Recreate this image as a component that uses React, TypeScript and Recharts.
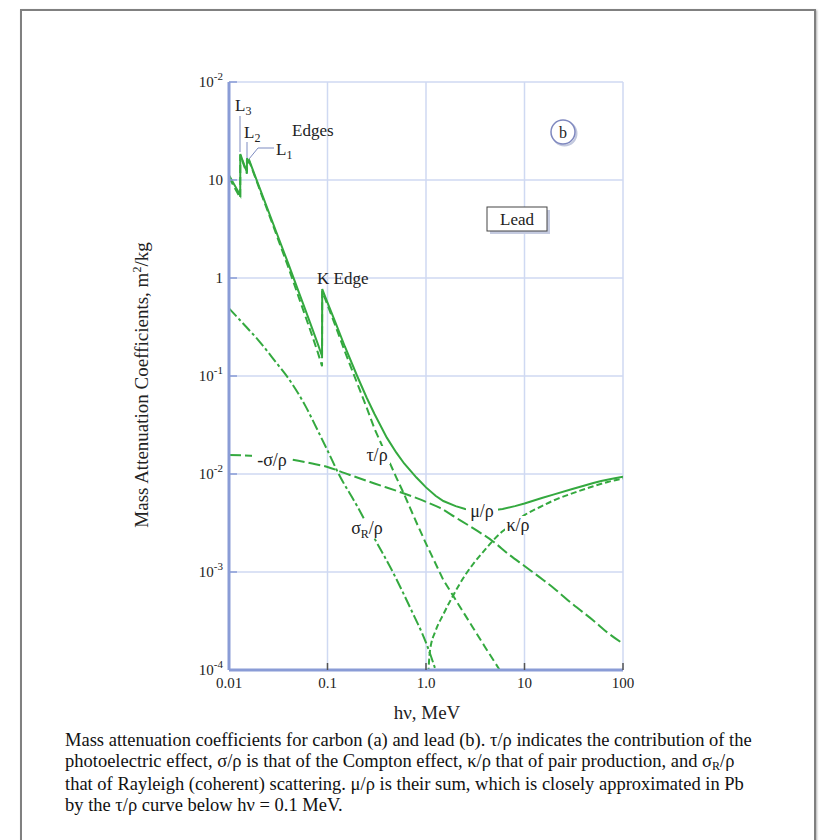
import React from "react";
import { CartesianGrid, Line, LineChart, XAxis, YAxis } from "recharts";

// Lead: photon energy hν (MeV) and mass attenuation coefficients (m²/kg)
const muEnergy = [
  0.01, 0.013, 0.01302, 0.0152, 0.01522, 0.0159, 0.01592, 0.02, 0.03, 0.04, 0.05, 0.06, 0.07, 0.08, 0.088,
  0.0884, 0.1, 0.12, 0.15, 0.2, 0.25, 0.3, 0.4, 0.5, 0.6, 0.8, 1, 1.25, 1.5, 2, 2.5, 3, 4, 5, 6, 8, 10, 15,
  20, 30, 40, 50, 60, 80, 100,
];
const muValue = [
  11.2, 7.0, 18.4, 12.0, 16.7, 14.8, 16.2, 8.8, 3.0, 1.4, 0.76, 0.465, 0.305, 0.21, 0.16, 0.77, 0.56, 0.355,
  0.2, 0.1, 0.06, 0.041, 0.0235, 0.0165, 0.0128, 0.0092, 0.0073, 0.006, 0.0053, 0.0047, 0.0044, 0.0043,
  0.0042, 0.0043, 0.0044, 0.0047, 0.005, 0.0057, 0.0062, 0.007, 0.0076, 0.0081, 0.0085, 0.009, 0.0094,
];

// τ/ρ photoelectric
const tauEnergy = [
  0.01, 0.013, 0.01302, 0.0152, 0.01522, 0.0159, 0.01592, 0.02, 0.03, 0.04, 0.05, 0.06, 0.07, 0.08, 0.088,
  0.0884, 0.1, 0.12, 0.15, 0.2, 0.25, 0.3, 0.43, 0.5, 0.6, 0.8, 1, 1.5, 2, 3, 4, 5.6, 7,
];
const tauValue = [
  10.6, 6.58, 18.0, 11.6, 16.3, 14.45, 15.85, 8.54, 2.85, 1.29, 0.675, 0.4, 0.257, 0.172, 0.126, 0.736,
  0.53, 0.328, 0.178, 0.0845, 0.0475, 0.029, 0.0129, 0.0092, 0.0062, 0.0032, 0.00195, 0.00083, 0.00052,
  0.00027, 0.00017, 0.0001, 0.00007,
];

// σ/ρ Compton
const sigmaEnergy = [0.01, 0.02, 0.04, 0.07, 0.1, 0.15, 0.3, 0.58, 1, 1.39, 2, 3, 4.8, 7, 10, 15.5, 20, 30, 50, 70, 100];
const sigmaValue = [
  0.0156, 0.0152, 0.0142, 0.0128, 0.0118, 0.0102, 0.008, 0.0064, 0.0052, 0.0045, 0.0036, 0.0028, 0.00205,
  0.0015, 0.00115, 0.00083, 0.00068, 0.00048, 0.00032, 0.00024, 0.000186,
];

// σR/ρ Rayleigh (coherent)
const rayleighEnergy = [0.01, 0.015, 0.02, 0.03, 0.04, 0.06, 0.08, 0.1, 0.13, 0.2, 0.3, 0.46, 0.7, 1, 1.3, 1.5];
const rayleighValue = [
  0.49, 0.316, 0.23, 0.138, 0.095, 0.049, 0.0275, 0.0174, 0.01, 0.0047, 0.0022, 0.001, 0.00042, 0.00019,
  0.000089, 0.000056,
];

// κ/ρ pair production
const kappaEnergy = [1.03, 1.1, 1.25, 1.5, 1.84, 2.5, 3, 4, 4.8, 6, 8, 10, 15, 20, 30, 50, 70, 100];
const kappaValue = [
  0.00006, 0.00016, 0.00025, 0.00037, 0.00055, 0.00093, 0.0012, 0.0017, 0.0021, 0.0026, 0.0032, 0.0038,
  0.0047, 0.0054, 0.0063, 0.0075, 0.0083, 0.009,
];

const xTicks = [0.01, 0.1, 1, 10, 100];
const xTickText = ["0.01", "0.1", "1.0", "10", "100"];
const yTicks = [0.0001, 0.001, 0.01, 0.1, 1, 10, 100];
const yTickBase = ["10", "10", "10", "10", "1", "10", "10"];
const yTickExp = ["-4", "-3", "-2", "-1", "", "", "-2"];

const zip = (xs: number[], ys: number[]) => xs.map((x, i) => ({ x, y: ys[i] }));

const SERIF = "'Liberation Serif', 'Times New Roman', serif";
const GREEN = "#34a93f";
const FRAME = "#8a9cd6";
const GRID = "#cfd9f2";

function XTick(props: any) {
  const { x, y, payload } = props;
  const i = xTicks.indexOf(payload.value);
  return (
    <text x={x} y={y} textAnchor="middle" fontFamily={SERIF} fontSize={15} fill="#222">
      {xTickText[i]}
    </text>
  );
}

function YTick(props: any) {
  const { x, y, payload } = props;
  const i = yTicks.indexOf(payload.value);
  return (
    <text x={x} y={y + 5} textAnchor="end" fontFamily={SERIF} fontSize={15} fill="#222">
      {yTickBase[i]}
      {yTickExp[i] && (
        <tspan dy={-7} fontSize={11}>
          {yTickExp[i]}
        </tspan>
      )}
    </text>
  );
}

const NoTick = () => <g />;

function CurveLabel({ x, y, w, children }: { x: number; y: number; w: number; children: React.ReactNode }) {
  return (
    <g>
      <rect x={x - w / 2} y={y - 9} width={w} height={18} fill="#fff" />
      <text x={x} y={y + 6} textAnchor="middle" fontFamily={SERIF} fontSize={18} fill="#222">
        {children}
      </text>
    </g>
  );
}

export default function App() {
  const lineProps = {
    xAxisId: "x",
    yAxisId: "y",
    dataKey: "y",
    stroke: GREEN,
    strokeWidth: 2,
    dot: false,
    activeDot: false,
    isAnimationActive: false,
  } as const;

  return (
    <div style={{ position: "absolute", left: 0, top: 0, width: 819, height: 840, background: "#fff", overflow: "hidden" }}>
      <div
        style={{
          position: "absolute",
          left: 20,
          top: 9,
          width: 792,
          height: 860,
          border: "2px solid #808080",
          boxShadow: "1px 1px 2px #b0b0b0",
        }}
      />
      <div style={{ position: "absolute", left: 0, top: 0 }}>
        <LineChart width={819} height={840} margin={{ top: 82, right: 196, bottom: 140, left: 169 }}>
          <CartesianGrid xAxisId="x" yAxisId="y" stroke={GRID} strokeWidth={1.5} />
          <XAxis
            xAxisId="x"
            type="number"
            dataKey="x"
            scale="log"
            domain={[0.01, 100]}
            ticks={xTicks}
            interval={0}
            allowDataOverflow
            height={30}
            tickSize={-7}
            tickMargin={25}
            tickLine={{ stroke: "#555", strokeWidth: 1.5 }}
            axisLine={{ stroke: FRAME, strokeWidth: 3 }}
            tick={<XTick />}
          />
          <XAxis
            xAxisId="top"
            orientation="top"
            type="number"
            dataKey="x"
            scale="log"
            domain={[0.01, 100]}
            ticks={[0.1, 1, 10]}
            interval={0}
            allowDataOverflow
            height={0}
            tickSize={-7}
            tickLine={{ stroke: "#555", strokeWidth: 1.5 }}
            axisLine={{ stroke: FRAME, strokeWidth: 2 }}
            tick={<NoTick />}
          />
          <YAxis
            yAxisId="y"
            type="number"
            scale="log"
            domain={[0.0001, 100]}
            ticks={yTicks}
            interval={0}
            allowDataOverflow
            width={60}
            tickSize={-8}
            tickMargin={14}
            tickLine={{ stroke: FRAME, strokeWidth: 1.5 }}
            axisLine={{ stroke: FRAME, strokeWidth: 3 }}
            tick={<YTick />}
          />
          <YAxis
            yAxisId="yr"
            orientation="right"
            type="number"
            scale="log"
            domain={[0.0001, 100]}
            ticks={[0.001, 0.01, 0.1, 1, 10]}
            interval={0}
            allowDataOverflow
            width={0}
            tickSize={-8}
            tickLine={{ stroke: "#777", strokeWidth: 1.5 }}
            axisLine={{ stroke: FRAME, strokeWidth: 2 }}
            tick={<NoTick />}
          />
          <Line {...lineProps} data={zip(rayleighEnergy, rayleighValue)} type="monotone" strokeDasharray="11 3 3 3" name="σR/ρ" />
          <Line {...lineProps} data={zip(sigmaEnergy, sigmaValue)} type="monotone" strokeDasharray="12 4" name="σ/ρ" />
          <Line {...lineProps} data={zip(kappaEnergy, kappaValue)} type="monotone" strokeDasharray="6 3" name="κ/ρ" />
          <Line {...lineProps} data={zip(tauEnergy, tauValue)} type="linear" strokeDasharray="8 4" name="τ/ρ" />
          <Line {...lineProps} data={zip(muEnergy, muValue)} type="linear" name="μ/ρ" />
        </LineChart>
      </div>

      <svg width={819} height={840} style={{ position: "absolute", left: 0, top: 0, pointerEvents: "none" }}>
        <g fontFamily={SERIF} fontSize={17} fill="#222">
          {/* edge annotations */}
          <line x1={240} y1={116} x2={240} y2={152} stroke="#7d8bc0" strokeWidth={1} />
          <text x={235} y={111}>
            L<tspan dy={4} fontSize={12}>3</tspan>
          </text>
          <line x1={247} y1={142} x2={247} y2={158} stroke="#7d8bc0" strokeWidth={1} />
          <text x={244} y={138}>
            L<tspan dy={4} fontSize={12}>2</tspan>
          </text>
          <polyline points="249,159 258,148 274,148" fill="none" stroke="#7d8bc0" strokeWidth={1} />
          <text x={276} y={155}>
            L<tspan dy={4} fontSize={12}>1</tspan>
          </text>
          <text x={292} y={136}>Edges</text>
          <text x={317} y={284}>K Edge</text>

          {/* panel marker */}
          <circle cx={564.5} cy={133.5} r={12} fill="none" stroke="#c2c8de" strokeWidth={2} />
          <circle cx={563} cy={132} r={12} fill="#fff" stroke="#7f88bf" strokeWidth={1.5} />
          <text x={563} y={137.5} textAnchor="middle" fontSize={16}>b</text>

          <rect x={490} y={210} width={60} height={24} fill="#c5cbe0" />
          <rect x={487} y={207} width={60} height={24} fill="#fff" stroke="#444" strokeWidth={1} />
          <text x={517} y={225} textAnchor="middle" fontSize={17}>Lead</text>
        </g>

        <CurveLabel x={272} y={460} w={40}>-σ/ρ</CurveLabel>
        <CurveLabel x={377} y={455} w={26}>τ/ρ</CurveLabel>
        <CurveLabel x={367} y={528} w={42}>
          σ<tspan dy={4} fontSize={12}>R</tspan>
          <tspan dy={-4}>/ρ</tspan>
        </CurveLabel>
        <CurveLabel x={482} y={511} w={32}>μ/ρ</CurveLabel>
        <CurveLabel x={518} y={525} w={26}>κ/ρ</CurveLabel>

        <g fontFamily={SERIF} fontSize={19} fill="#222">
          <text x={148} y={385} textAnchor="middle" transform="rotate(-90 148 385)">
            Mass Attenuation Coefficients, m<tspan dy={-7} fontSize={12}>2</tspan>
            <tspan dy={7}>/kg</tspan>
          </text>
          <text x={427} y={719} textAnchor="middle">hν, MeV</text>
        </g>
      </svg>

      <div
        style={{
          position: "absolute",
          left: 65,
          top: 730,
          fontFamily: SERIF,
          fontSize: 18.5,
          lineHeight: "21px",
          color: "#111",
          whiteSpace: "nowrap",
        }}
      >
        <div>Mass attenuation coefficients for carbon (a) and lead (b). τ/ρ indicates the contribution of the</div>
        <div>
          photoelectric effect, σ/ρ is that of the Compton effect, κ/ρ that of pair production, and σ
          <span style={{ fontSize: 12, position: "relative", top: 3 }}>R</span>/ρ
        </div>
        <div>that of Rayleigh (coherent) scattering. μ/ρ is their sum, which is closely approximated in Pb</div>
        <div>by the τ/ρ curve below hν = 0.1 MeV.</div>
      </div>
    </div>
  );
}
